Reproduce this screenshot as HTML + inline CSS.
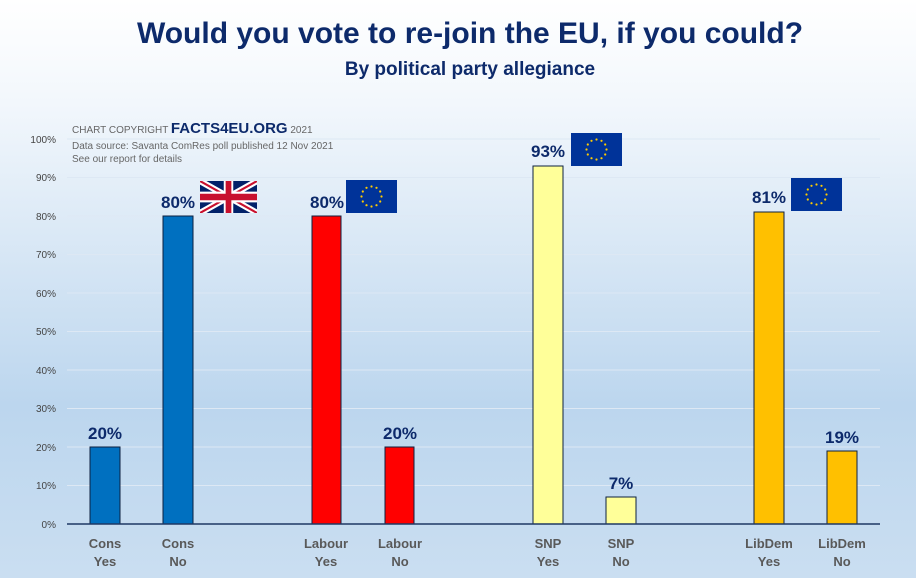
<!DOCTYPE html>
<html><head><style>
body{margin:0;width:916px;height:578px;overflow:hidden;font-family:"Liberation Sans",sans-serif}
</style></head><body>
<svg width="916" height="578" xmlns="http://www.w3.org/2000/svg" font-family="Liberation Sans, sans-serif">
<defs>
<linearGradient id="bg" x1="0" y1="0" x2="0" y2="1">
<stop offset="0" stop-color="#ffffff"/><stop offset="0.18" stop-color="#f2f7fc"/>
<stop offset="0.7" stop-color="#bcd6ee"/><stop offset="1" stop-color="#cadef1"/>
</linearGradient>
<g id="eu"><rect width="51" height="33" fill="#003399"/>
<g fill="#ffcc00">
<circle cx="25.5" cy="6.5" r="1.1"/><circle cx="30.5" cy="7.8" r="1.1"/><circle cx="34.2" cy="11.5" r="1.1"/><circle cx="35.5" cy="16.5" r="1.1"/><circle cx="34.2" cy="21.5" r="1.1"/><circle cx="30.5" cy="25.2" r="1.1"/><circle cx="25.5" cy="26.5" r="1.1"/><circle cx="20.5" cy="25.2" r="1.1"/><circle cx="16.8" cy="21.5" r="1.1"/><circle cx="15.5" cy="16.5" r="1.1"/><circle cx="16.8" cy="11.5" r="1.1"/><circle cx="20.5" cy="7.8" r="1.1"/>
</g></g>
</defs>
<rect width="916" height="578" fill="url(#bg)"/>
<text x="470" y="43" text-anchor="middle" font-size="30" font-weight="bold" fill="#0d2a6b">Would you vote to re-join the EU, if you could?</text>
<text x="470" y="75" text-anchor="middle" font-size="19" font-weight="bold" fill="#0d2a6b">By political party allegiance</text>
<g stroke="#dde8f4" stroke-width="1">
<line x1="67" x2="880" y1="139" y2="139"/><line x1="67" x2="880" y1="177.5" y2="177.5"/><line x1="67" x2="880" y1="216" y2="216"/><line x1="67" x2="880" y1="254.5" y2="254.5"/><line x1="67" x2="880" y1="293" y2="293"/><line x1="67" x2="880" y1="331.5" y2="331.5"/><line x1="67" x2="880" y1="370" y2="370"/><line x1="67" x2="880" y1="408.5" y2="408.5"/><line x1="67" x2="880" y1="447" y2="447"/><line x1="67" x2="880" y1="485.5" y2="485.5"/>
</g>
<g font-size="10" fill="#444" text-anchor="end">
<text x="56" y="143">100%</text><text x="56" y="181">90%</text><text x="56" y="220">80%</text><text x="56" y="258">70%</text><text x="56" y="297">60%</text><text x="56" y="335">50%</text><text x="56" y="374">40%</text><text x="56" y="412">30%</text><text x="56" y="451">20%</text><text x="56" y="489">10%</text><text x="56" y="528">0%</text>
</g>
<g font-size="10" fill="#666">
<text x="72" y="133">CHART COPYRIGHT <tspan font-size="15" font-weight="bold" fill="#0d2a6b">FACTS4EU.ORG</tspan> 2021</text>
<text x="72" y="149">Data source: Savanta ComRes poll published 12 Nov  2021</text>
<text x="72" y="162">See our report for details</text>
</g>
<g stroke="#0d2040" stroke-width="1">
<rect x="90" y="447" width="30" height="77" fill="#0070c0"/>
<rect x="163" y="216" width="30" height="308" fill="#0070c0"/>
<rect x="312" y="216" width="29" height="308" fill="#ff0000"/>
<rect x="385" y="447" width="29" height="77" fill="#ff0000"/>
<rect x="533" y="166" width="30" height="358" fill="#ffff99"/>
<rect x="606" y="497" width="30" height="27" fill="#ffff99"/>
<rect x="754" y="212" width="30" height="312" fill="#ffc000"/>
<rect x="827" y="451" width="30" height="73" fill="#ffc000"/>
</g>
<line x1="67" x2="880" y1="524" y2="524" stroke="#1f3864" stroke-width="1.5"/>
<g font-size="17" font-weight="bold" fill="#0d2a6b" text-anchor="middle">
<text x="105" y="439">20%</text><text x="178" y="208">80%</text><text x="327" y="208">80%</text><text x="400" y="439">20%</text><text x="548" y="157">93%</text><text x="621" y="489">7%</text><text x="769" y="203">81%</text><text x="842" y="443">19%</text>
</g>
<g font-size="13" font-weight="bold" fill="#595959" text-anchor="middle">
<text x="105" y="548">Cons</text><text x="105" y="566">Yes</text>
<text x="178" y="548">Cons</text><text x="178" y="566">No</text>
<text x="326" y="548">Labour</text><text x="326" y="566">Yes</text>
<text x="400" y="548">Labour</text><text x="400" y="566">No</text>
<text x="548" y="548">SNP</text><text x="548" y="566">Yes</text>
<text x="621" y="548">SNP</text><text x="621" y="566">No</text>
<text x="769" y="548">LibDem</text><text x="769" y="566">Yes</text>
<text x="842" y="548">LibDem</text><text x="842" y="566">No</text>
</g>
<svg x="200" y="181" width="57" height="32" viewBox="0 0 60 30" preserveAspectRatio="none">
<rect width="60" height="30" fill="#012169"/>
<path d="M0,0 L60,30 M60,0 L0,30" stroke="#fff" stroke-width="6"/>
<path d="M0,0 L60,30 M60,0 L0,30" stroke="#C8102E" stroke-width="2"/>
<path d="M30,0 V30 M0,15 H60" stroke="#fff" stroke-width="10"/>
<path d="M30,0 V30 M0,15 H60" stroke="#C8102E" stroke-width="6"/>
</svg>
<use href="#eu" x="346" y="180"/>
<use href="#eu" x="571" y="133"/>
<use href="#eu" x="791" y="178"/>
</svg>
</body></html>
